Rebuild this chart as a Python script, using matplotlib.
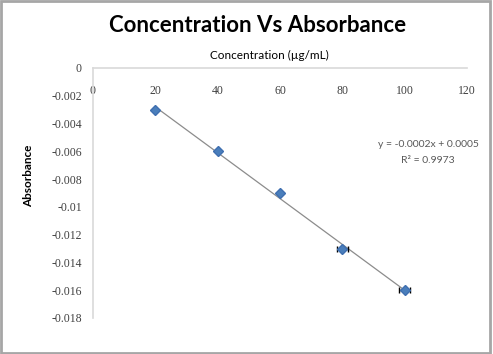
import numpy as np
import matplotlib
matplotlib.use("Agg")
import matplotlib.pyplot as plt
from matplotlib.patches import Rectangle

# data
conc = [20, 40, 60, 80, 100]
absorb = [-0.003, -0.006, -0.009, -0.013, -0.016]
conc_err = [0, 0, 0, 1.8, 1.8]
xticks = [0, 20, 40, 60, 80, 100, 120]
yticks = [0, -0.002, -0.004, -0.006, -0.008, -0.01, -0.012, -0.014, -0.016, -0.018]
ytick_labels = ["0", "-0.002", "-0.004", "-0.006", "-0.008", "-0.01",
                "-0.012", "-0.014", "-0.016", "-0.018"]

fig = plt.figure(figsize=(4.93, 3.54), dpi=100)
ax = fig.add_axes([93 / 493, 1 - 318 / 354, (467 - 93) / 493, (318 - 68) / 354])

# trendline (linear fit, like excel)
slope, icpt = np.polyfit(conc, absorb, 1)
xs = np.array([min(conc), max(conc)])
ax.plot(xs, slope * xs + icpt, color="#8c8c8c", lw=0.9, zorder=2)

ax.errorbar(conc, absorb, xerr=conc_err, fmt="none", ecolor="black",
            elinewidth=1.0, capsize=2.5, capthick=1.0, zorder=3)
ax.plot(conc, absorb, linestyle="none", marker="D", markersize=5.5,
        color="#4a7ebb", markeredgecolor="#3f6fb0", zorder=4)

ax.set_xlim(0, 120)
ax.set_ylim(-0.018, 0)
ax.set_xticks(xticks)
ax.set_yticks(yticks)
ax.set_yticklabels(ytick_labels)

for s in ["right", "bottom"]:
    ax.spines[s].set_visible(False)
ax.spines["top"].set_color("#d9d9d9")
ax.spines["left"].set_color("#d9d9d9")
ax.spines["top"].set_linewidth(1.2)
ax.spines["left"].set_linewidth(1.2)

# x tick labels sit just under the y=0 line (inside the plot)
ax.xaxis.tick_top()
ax.tick_params(axis="x", length=0, pad=-21)
ax.tick_params(axis="y", length=0, pad=8)
for lab in ax.get_xticklabels() + ax.get_yticklabels():
    lab.set_fontfamily("Liberation Serif")
    lab.set_fontsize(8.5)
    lab.set_color("#404040")

fig.text(258 / 493, 1 - 25 / 354, "Concentration Vs Absorbance", fontfamily="Lato",
         fontweight="bold", fontsize=16, ha="center", va="center")
fig.text(269 / 493, 1 - 55 / 354, "Concentration (\u00b5g/mL)",
         ha="center", va="center", fontfamily="Lato", fontsize=8.5)
ax.set_ylabel("Absorbance", fontfamily="Lato", fontweight="bold", fontsize=8.5)
ax.yaxis.set_label_coords(-0.158, 0.568)

fig.text(428 / 493, 1 - 145 / 354, "y = -0.0002x + 0.0005",
         ha="center", va="center", fontfamily="Lato", fontsize=7.5, color="#595959")
fig.text(428 / 493, 1 - 160 / 354, "R\u00b2 = 0.9973",
         ha="center", va="center", fontfamily="Lato", fontsize=7.5, color="#595959")

fig.patches.append(Rectangle((0.002, 0.003), 0.992, 0.993, transform=fig.transFigure,
                             fill=False, edgecolor="#a6a6a6", lw=2))

fig.savefig("out.png", dpi=100)
